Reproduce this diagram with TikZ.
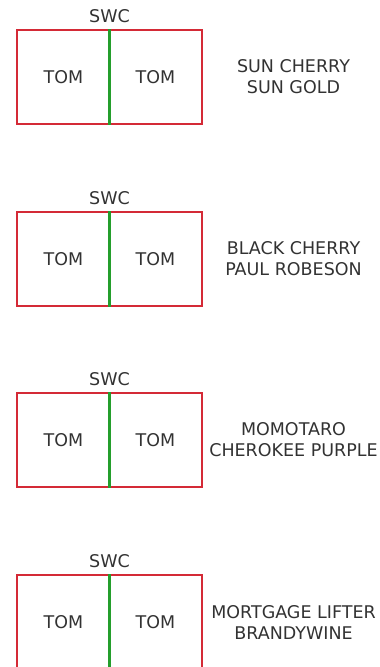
\documentclass[tikz,border=0pt]{standalone}
\usepackage{fontspec}
\setmainfont{DejaVu Sans}
\usetikzlibrary{positioning}
\definecolor{bedred}{RGB}{212,42,54}
\definecolor{rowgreen}{RGB}{36,158,44}
\definecolor{txtgray}{RGB}{50,50,50}

\begin{document}
\begin{tikzpicture}[x=1pt, y=-1pt,
  bed/.style={draw=bedred, line width=1.8pt, minimum width=185pt, minimum height=94pt, inner sep=0pt},
  lbl/.style={text=txtgray, font=\fontsize{17.5}{21}\selectfont, inner sep=0pt, align=center}
]
  \useasboundingbox (0,0) rectangle (380,667);
  \foreach \i/\ytop/\first/\second in {1/30/SUN CHERRY/SUN GOLD, 2/212/BLACK CHERRY/PAUL ROBESON,
      3/393/MOMOTARO/CHEROKEE PURPLE, 4/575/MORTGAGE LIFTER/BRANDYWINE}{
    \node[bed] (bed\i) at (109.5,\ytop+47) {};
    \draw[rowgreen, line width=2.6pt] (bed\i.north) -- (bed\i.south);
    \node[lbl, above=6pt of bed\i] (swc\i) {SWC};
    \node[lbl] (tomL\i) at ([xshift=-46pt]bed\i.center) {TOM};
    \node[lbl] (tomR\i) at ([xshift=46pt]bed\i.center) {TOM};
    \node[lbl] (var\i) at ([xshift=184pt]bed\i.center) {\first\\\second};
  }
\end{tikzpicture}
\end{document}
